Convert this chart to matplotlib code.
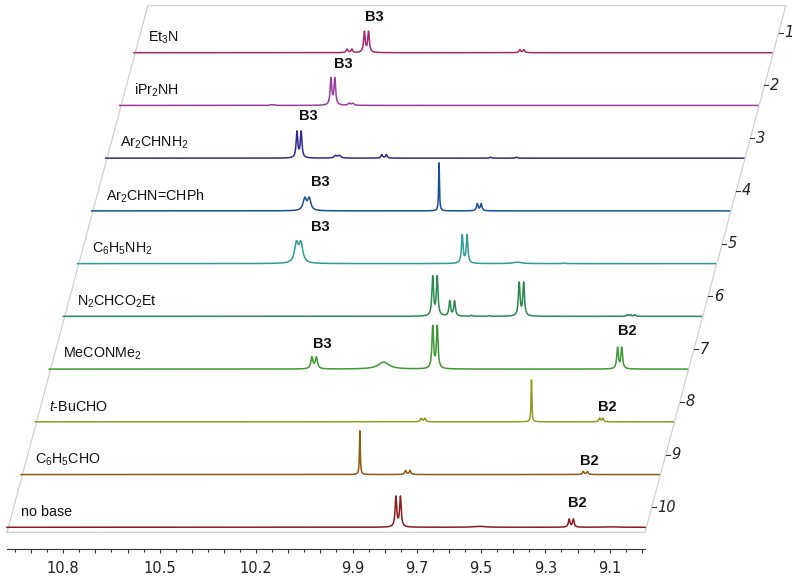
import numpy as np
import matplotlib.pyplot as plt
from matplotlib.ticker import FixedLocator, FuncFormatter

plt.rcParams['font.family'] = ['Liberation Sans', 'DejaVu Sans']
plt.rcParams['mathtext.fontset'] = 'custom'
plt.rcParams['mathtext.rm'] = 'Liberation Sans'
plt.rcParams['mathtext.it'] = 'Liberation Sans:italic'
plt.rcParams['mathtext.bf'] = 'Liberation Sans:bold'

# peak lists: (ppm, height, half width in ppm)
et3n = [(10.312, 3.5, 0.003), (10.297, 3.5, 0.003), (10.258, 20.5, 0.003), (10.245, 20.5, 0.003),
        (9.774, 3, 0.003), (9.762, 3, 0.003)]
ipr2nh = [(10.505, 0.8, 0.003), (10.495, 0.8, 0.003), (10.318, 26.5, 0.003), (10.306, 26.5, 0.003),
          (10.261, 2, 0.004), (10.250, 2, 0.004)]
ar2chnh2 = [(10.380, 26, 0.003), (10.367, 26, 0.003), (10.260, 2.5, 0.005), (10.248, 2.5, 0.005),
            (10.116, 3.5, 0.003), (10.102, 3.5, 0.003), (9.778, 1, 0.003), (9.697, 1, 0.003)]
imine = [(10.312, 12, 0.006), (10.298, 12, 0.006), (9.894, 48, 0.0015),
         (9.775, 7, 0.003), (9.763, 7, 0.003)]
aniline = [(10.294, 19, 0.007), (10.280, 19, 0.007), (9.778, 28, 0.003), (9.763, 28, 0.003),
           (9.607, 1.5, 0.015), (9.460, 0.6, 0.004)]
diazo = [(9.826, 39, 0.003), (9.812, 39, 0.003), (9.773, 15, 0.003), (9.758, 15, 0.003),
         (9.705, 1, 0.003), (9.650, 0.7, 0.003), (9.557, 33, 0.003), (9.543, 33, 0.003),
         (9.221, 1.5, 0.003), (9.211, 1.5, 0.003), (9.198, 1.5, 0.003)]
amide = [(10.158, 11.5, 0.004), (10.144, 11.5, 0.004), (9.935, 7, 0.02),
         (9.782, 42, 0.003), (9.768, 42, 0.003), (9.207, 21, 0.003), (9.194, 21, 0.003)]
tbucho = [(9.774, 3.5, 0.003), (9.763, 3.5, 0.003), (9.431, 42, 0.0015),
          (9.219, 3.5, 0.003), (9.209, 3.5, 0.003)]
phcho = [(9.921, 44, 0.0015), (9.779, 4, 0.003), (9.765, 4, 0.003),
         (9.226, 3, 0.003), (9.213, 3, 0.003)]
nobase = [(9.765, 30, 0.003), (9.751, 30, 0.003), (9.506, 1, 0.02),
          (9.226, 8, 0.003), (9.213, 8, 0.003), (9.100, 0.5, 0.02)]

spectra = [et3n, ipr2nh, ar2chnh2, imine, aniline, diazo, amide, tbucho, phcho, nobase]
names = ['Et$_3$N', 'iPr$_2$NH', 'Ar$_2$CHNH$_2$', 'Ar$_2$CHN=CHPh', 'C$_6$H$_5$NH$_2$',
         'N$_2$CHCO$_2$Et', 'MeCONMe$_2$', '$t$-BuCHO', 'C$_6$H$_5$CHO', 'no base']
colors = ['#a3286e', '#9c3a9e', '#2b2b8a', '#1c4f99', '#2e9a9a',
          '#2a8a4c', '#3c9a32', '#8d9c1c', '#8e5a10', '#8c1c1c']

# B2 / B3 annotations: row, text, ppm, height
b_rows = [0, 1, 2, 3, 4, 6, 6, 7, 8, 9]
b_text = ['B3', 'B3', 'B3', 'B3', 'B3', 'B3', 'B2', 'B2', 'B2', 'B2']
b_ppm = [10.227, 10.280, 10.345, 10.263, 10.220, 10.126, 9.178, 9.195, 9.206, 9.202]
b_height = [35.7, 41, 42, 28.7, 37, 25.3, 38.3, 14.7, 14, 24.3]

labeled_ticks = [10.8, 10.5, 10.2, 9.9, 9.7, 9.5, 9.3, 9.1]
ppm_range = (10.975, 8.99)

# layout in pixels
W, H = 800, 578
x_front = 7.0
y_back = 52.7
dx, dy = 14.1, 52.73
span = 638.0
row_h = 60.0

fig = plt.figure(figsize=(W / 100, H / 100), dpi=100)

# oblique frame
fr = fig.add_axes([0, 0, 1, 1], zorder=0)
fr.set_xlim(0, W)
fr.set_ylim(H, 0)
fr.axis('off')
y_bot = y_back + 9 * dy + 5
y_top = 5.7
x_shift = (y_bot - y_top) * dx / dy
fr.plot([x_front, x_front + span, x_front + span + x_shift, x_front + x_shift, x_front],
        [y_bot, y_bot, y_top, y_top, y_bot], color='#d0d0d0', lw=0.9)

ppm = np.linspace(ppm_range[0], ppm_range[1], 6000)

for i, peaks in enumerate(spectra):
    xr = x_front + (9 - i) * dx
    base = y_back + i * dy
    ax = fig.add_axes([xr / W, (H - base) / H, span / W, row_h / H], zorder=2 + i)
    ax.set_xlim(ppm_range)
    ax.set_ylim(0, row_h)
    ax.axis('off')
    ax.patch.set_alpha(0)
    y = np.zeros_like(ppm)
    for p0, h, w in peaks:
        y += h * w**2 / ((ppm - p0)**2 + w**2)
    ax.plot(ppm, y, color=colors[i], lw=1.1, clip_on=False)
    ax.text(14 / span, 15 / row_h, names[i], transform=ax.transAxes,
            ha='left', va='center', fontsize=10.3, color='#111111')
    for r, t, p, hh in zip(b_rows, b_text, b_ppm, b_height):
        if r == i:
            ax.text(p, hh, t, ha='center', va='center', fontsize=10.5,
                    fontweight='bold', color='#111111')

    # depth axis tick on the right edge
    yt = base - 20
    xl = x_front + span + (y_bot - yt) * dx / dy
    fr.plot([xl, xl + 4], [yt, yt], color='#333333', lw=0.8)
    fr.text(xl + 5.5, yt, str(i + 1), ha='left', va='center', fontsize=10.5,
            style='italic', family='DejaVu Sans', color='#222222')

# ppm axis
axb = fig.add_axes([x_front / W, (H - 549) / H, span / W, 0.0001], zorder=1)
axb.set_xlim(ppm_range)
axb.set_yticks([])
for s in ['top', 'left', 'right']:
    axb.spines[s].set_visible(False)
axb.spines['bottom'].set_color('#333333')
axb.spines['bottom'].set_linewidth(0.8)
axb.patch.set_alpha(0)
axb.xaxis.set_major_locator(FixedLocator(np.round(np.arange(9.0, 10.95, 0.1), 1)))
axb.xaxis.set_minor_locator(FixedLocator(np.round(np.arange(9.05, 10.96, 0.1), 2)))
axb.xaxis.set_major_formatter(FuncFormatter(
    lambda v, pos: f'{v:.1f}' if any(abs(v - t) < 1e-6 for t in labeled_ticks) else ''))
axb.tick_params(axis='x', which='major', length=3.2, width=0.8, color='#333333',
                pad=5.5, labelsize=10.5, labelcolor='#222222')
axb.tick_params(axis='x', which='minor', length=1.8, width=0.8, color='#333333')
for lab in axb.get_xticklabels():
    lab.set_family('DejaVu Sans')

fig.savefig('out.png', dpi=100)
